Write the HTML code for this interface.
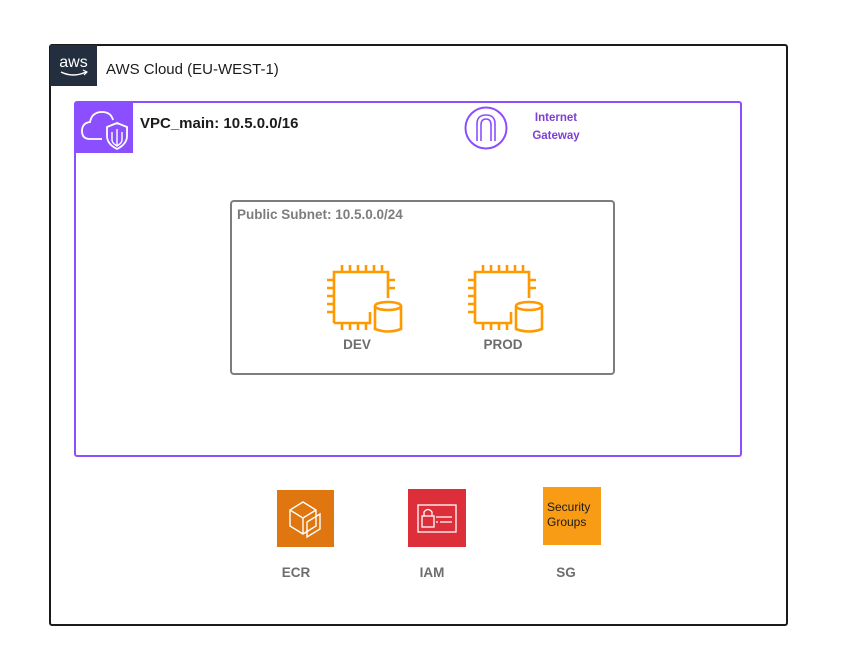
<!DOCTYPE html>
<html><head><meta charset="utf-8"><style>
body{margin:0;width:849px;height:656px;background:#fff;overflow:hidden;font-family:"Liberation Sans",Arial,sans-serif;}
</style></head><body>
<svg width="849" height="656" xmlns="http://www.w3.org/2000/svg" font-family="Liberation Sans, Arial, sans-serif">
<defs>
<g id="ec2" fill="none" stroke="#ff9900" stroke-width="2.6">
  <path d="M14,63 V12 H68 V38"/>
  <path d="M22,5 V12 M30,5 V12 M38,5 V12 M46,5 V12 M54,5 V12 M62,5 V12"/>
  <path d="M7,20 H14 M7,28 H14 M7,36 H14 M7,44 H14 M7,52 H14"/>
  <path d="M68,20 H75 M68,28 H75"/>
  <path d="M22,63 V70 M30,63 V70 M38,63 V70 M46,63 V70"/>
  <path d="M14,63 H50 V52"/>
  <ellipse cx="68" cy="46" rx="13" ry="4"/>
  <path d="M55,46 V69 Q68,74 81,69 V46"/>
</g>
</defs>
<rect x="50" y="45" width="737" height="580" fill="none" stroke="#1b1b1b" stroke-width="2" rx="2"/>
<rect x="50" y="45" width="47" height="41" fill="#232f3e"/>
<text x="73.5" y="67" fill="#fff" font-size="16" text-anchor="middle">aws</text>
<path d="M61,72 Q73,78 86,72" stroke="#fff" stroke-width="1.5" fill="none"/>
<path d="M83,70 L87,72 L84,75" stroke="#fff" stroke-width="1.2" fill="none"/>
<text x="106" y="74" fill="#1b1b1b" font-size="15">AWS Cloud (EU-WEST-1)</text>

<rect x="75" y="102" width="666" height="354" fill="none" stroke="#8c4fff" stroke-width="2" rx="2"/>
<rect x="75" y="102" width="58" height="51" fill="#8c4fff"/>
<path d="M102,139 H90 Q82,139 82,131 Q82,123 90,122 Q92,112 102,112 Q111,112 113,120" stroke="#fff" stroke-width="1.8" fill="none"/>
<path d="M117,123 L127,127 V136 Q127,144 117,149 Q107,144 107,136 V127 Z" stroke="#fff" stroke-width="1.8" fill="#8c4fff"/>
<path d="M117,129 V146 M112,132 V140 Q112,143 117,146 Q122,143 122,140 V132" stroke="#fff" stroke-width="1.4" fill="none"/>
<text x="140" y="128" fill="#1b1b1b" font-size="15" font-weight="bold">VPC_main: 10.5.0.0/16</text>

<circle cx="486" cy="128" r="20.5" fill="none" stroke="#8c4fff" stroke-width="2"/>
<path d="M477,141 V124 Q477,115 486,115 Q495,115 495,124 V141 M481,141 V125 Q481,119 486,119 Q491,119 491,125 V141" stroke="#8c4fff" stroke-width="1.6" fill="none"/>
<text x="556" y="121" fill="#7d3fd6" font-size="11.5" font-weight="bold" text-anchor="middle">Internet</text>
<text x="556" y="139" fill="#7d3fd6" font-size="11.5" font-weight="bold" text-anchor="middle">Gateway</text>

<rect x="231" y="201" width="383" height="173" fill="none" stroke="#7d7d7d" stroke-width="2" rx="3"/>
<text x="237" y="219" fill="#7d7d7d" font-size="13.5" font-weight="bold">Public Subnet: 10.5.0.0/24</text>

<use href="#ec2" x="320" y="260"/>
<use href="#ec2" x="461" y="260"/>
<text x="357" y="349" fill="#6d6d6d" font-size="13.5" font-weight="bold" text-anchor="middle">DEV</text>
<text x="503" y="349" fill="#6d6d6d" font-size="13.5" font-weight="bold" text-anchor="middle">PROD</text>

<rect x="277" y="490" width="57" height="57" fill="#e07610"/>
<g stroke="#fff" stroke-width="1.4" fill="none">
<path d="M290,510 L303,502 L316,510 V526 L303,534 L290,526 Z M290,510 L303,518 V534 M303,518 L316,510"/>
<path d="M307,522 L320,514 V529 L307,537 Z"/>
</g>
<text x="296" y="577" fill="#6d6d6d" font-size="13.5" font-weight="bold" text-anchor="middle">ECR</text>

<rect x="408" y="489" width="58" height="58" fill="#dd2f3a"/>
<rect x="418" y="505" width="38" height="27" fill="none" stroke="#fff" stroke-width="1.3"/>
<rect x="422" y="516" width="12" height="11" fill="none" stroke="#fff" stroke-width="1.3"/>
<path d="M424,516 V512 Q428,507 432,512 V516 M436,517 H452 M440,522 H452 M436,522 H438" stroke="#fff" stroke-width="1.3" fill="none"/>
<text x="432" y="577" fill="#6d6d6d" font-size="13.5" font-weight="bold" text-anchor="middle">IAM</text>

<rect x="543" y="487" width="58" height="58" fill="#f89c16"/>
<text x="547" y="511" fill="#1b1b1b" font-size="12">Security</text>
<text x="547" y="526" fill="#1b1b1b" font-size="12">Groups</text>
<text x="566" y="577" fill="#6d6d6d" font-size="13.5" font-weight="bold" text-anchor="middle">SG</text>
</svg>
</body></html>
